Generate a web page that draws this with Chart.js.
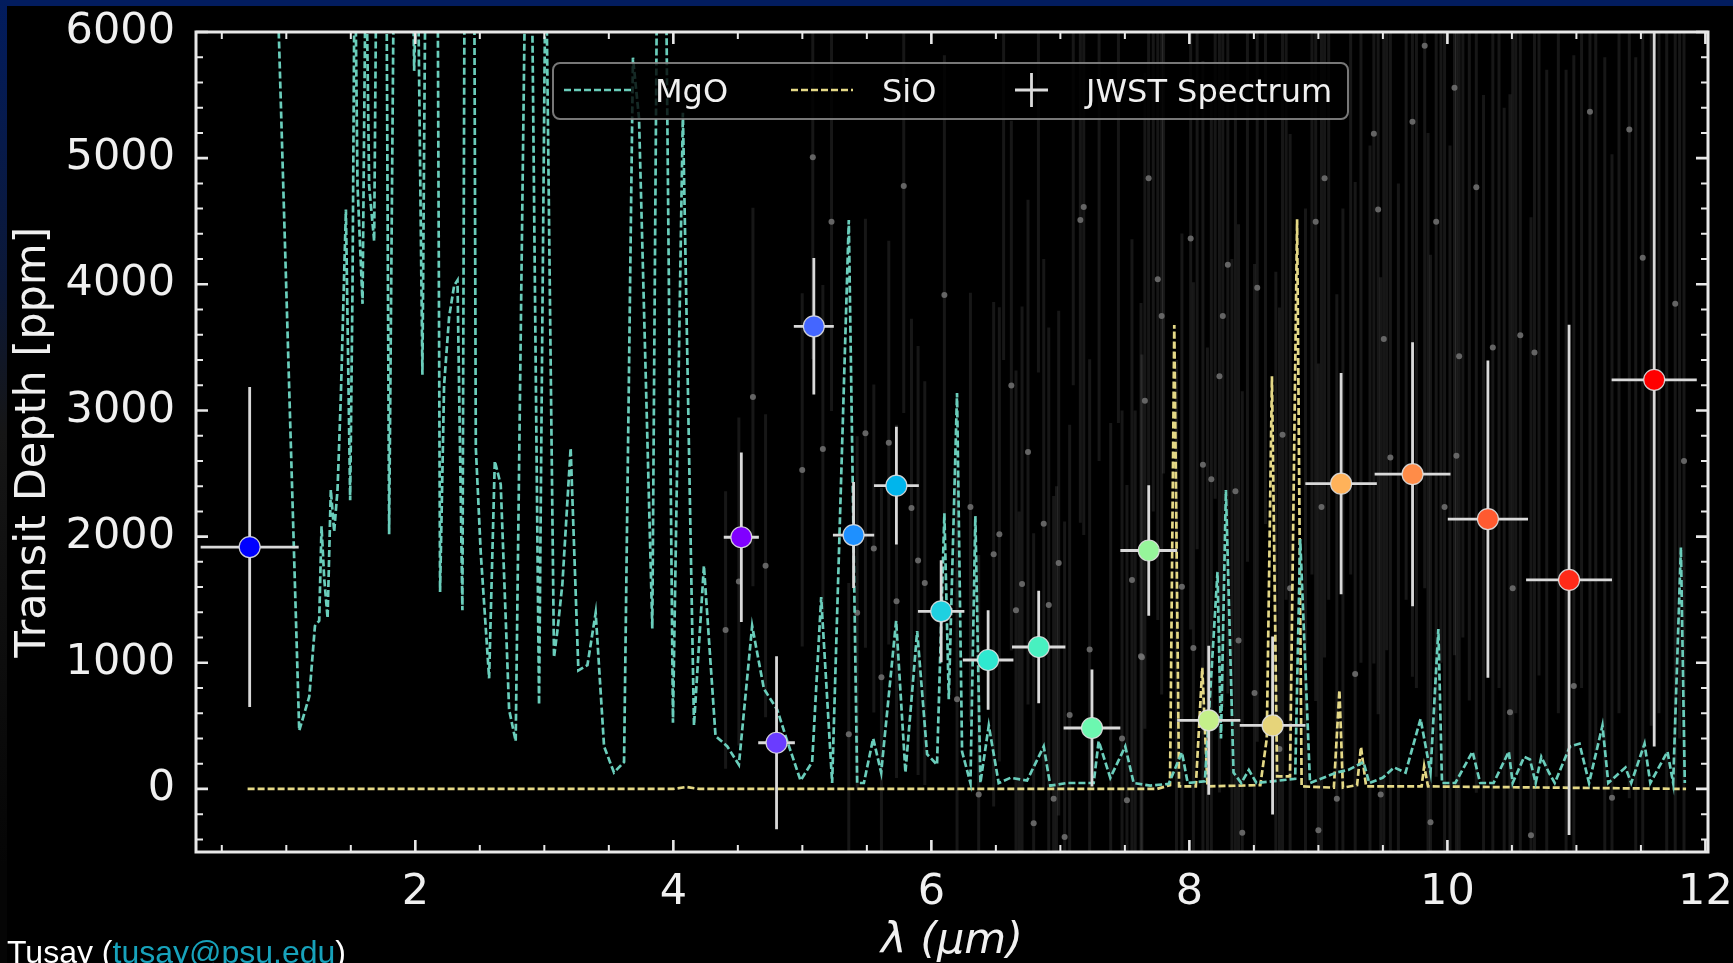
<!DOCTYPE html>
<html>
<head>
<meta charset="utf-8">
<script src="https://cdn.jsdelivr.net/npm/chart.js@4.4.1/dist/chart.umd.min.js"></script>
<style>
    html, body { margin: 0; padding: 0; background: #000; }
    #wrap { position: relative; width: 1733px; height: 963px; overflow: hidden; background: #000; }
    #topbar { position: absolute; left: 0; top: 0; width: 1733px; height: 6px; background: #021c5e; }
    #leftbar { position: absolute; left: 0; top: 0; width: 7px; height: 963px; background: linear-gradient(#021c5e, #0c1836 30%, #161616 45%, #050505 90%); }
    #chart { position: absolute; left: 0; top: 0; }
    #credit { position: absolute; left: 7px; top: 936px; font: 32px "Liberation Sans", Arial, sans-serif; line-height: 32px; color: #fff; white-space: nowrap; }
    #credit span { color: #17a2bb; }
</style>
</head>
<body>
<div id="wrap">
    <div id="topbar"></div>
    <div id="leftbar"></div>
    <canvas id="chart" width="1733" height="963"></canvas>
    <div id="credit">Tusay (<span>tusay@psu.edu</span>)</div>
</div>
<script>
    // JWST binned spectrum (wavelength in um, depth in ppm)
    var jwstX = [0.716, 4.527, 4.80, 5.089, 5.397, 5.729, 6.076, 6.44, 6.832, 7.245, 7.685, 8.15, 8.645, 9.176, 9.73, 10.314, 10.943, 11.603];
    var jwstY = [1917, 1995, 366, 3667, 2012, 2404, 1408, 1022, 1125, 483, 1890, 544, 503, 2420, 2495, 2139, 1657, 3243];
    var jwstXErr = [0.38, 0.136, 0.142, 0.155, 0.16, 0.174, 0.18, 0.196, 0.207, 0.22, 0.22, 0.245, 0.255, 0.277, 0.294, 0.311, 0.333, 0.33];
    var jwstYErr = [1268, 672, 685, 541, 420, 467, 404, 394, 446, 463, 518, 590, 705, 876, 1046, 1258, 2023, 2906];
    var jwstColors = ['#0000ff', '#8000ff', '#6a3cff', '#4466ff', '#1e90ff', '#00b5ec', '#1fd0e0', '#2ee8d0',
        '#48f0c0', '#6cf7b0', '#96f59a', '#c4f08a', '#e6d47a', '#ffb25a', '#ff8c48', '#ff5a30', '#ff2a18', '#ff0000'];

    // MgO model spectrum
    var mgoX = [0.93, 1.100, 1.178, 1.222, 1.255, 1.273, 1.294, 1.320, 1.345, 1.371, 1.397, 1.423, 1.462, 1.495, 1.513,
        1.531, 1.552, 1.591, 1.617, 1.642, 1.681, 1.700, 1.775, 1.797, 1.836, 1.978, 1.991, 2.017, 2.055, 2.081,
        2.172, 2.192, 2.223, 2.262, 2.301, 2.327, 2.365, 2.383, 2.456, 2.469, 2.507, 2.572, 2.616, 2.662, 2.727,
        2.778, 2.856, 2.900, 2.959, 3.011, 3.075, 3.101, 3.140, 3.204, 3.264, 3.334, 3.398, 3.463, 3.540, 3.618,
        3.687, 3.734, 3.837, 3.876, 3.940, 3.997, 4.074, 4.160, 4.237, 4.327, 4.418, 4.508, 4.611, 4.702, 4.805,
        4.883, 4.986, 5.076, 5.146, 5.231, 5.360, 5.425, 5.477, 5.549, 5.611, 5.727, 5.799, 5.890, 5.967, 6.044,
        6.101, 6.135, 6.199, 6.238, 6.303, 6.341, 6.380, 6.445, 6.522, 6.613, 6.742, 6.871, 6.922, 7.051, 7.258,
        7.297, 7.387, 7.503, 7.568, 7.697, 7.840, 7.942, 7.987, 8.120, 8.218, 8.245, 8.283, 8.342, 8.402, 8.461,
        8.520, 8.820, 8.859, 8.935, 9.142, 9.231, 9.350, 9.394, 9.498, 9.587, 9.676, 9.792, 9.869, 9.930, 9.958,
        10.061, 10.195, 10.254, 10.358, 10.476, 10.506, 10.595, 10.640, 10.684, 10.728, 10.787, 10.832, 10.950, 11.024, 11.098,
        11.202, 11.247, 11.380, 11.425, 11.528, 11.573, 11.706, 11.750, 11.810, 11.840];
    var mgoY = [6400, 462, 732, 1292, 1333, 2081, 1665, 1354, 2371, 2039, 2371, 3118, 4592, 2288, 3949,
        6800, 4779, 3845, 6800, 4779, 4343, 6800, 6800, 2018, 6800, 6800, 5692, 6800, 3284, 6800,
        6800, 1562, 3200, 3741, 3990, 4032, 1416, 6800, 6800, 2703, 1873, 877, 2599, 2413, 628,
        379, 6800, 6800, 669, 6800, 1043, 1250, 1624, 2703, 939, 981, 1396, 337, 130, 213,
        5796, 5318, 1271, 6800, 6800, 524, 5360, 503, 1769, 420, 337, 192, 1292, 794, 628,
        379, 67, 213, 1520, 47, 4509, 47, 47, 400, 130, 1333, 130, 1250, 275, 192,
        2184, 711, 3139, 296, 47, 2164, 47, 503, 47, 88, 67, 337, 26, 47, 47,
        379, 88, 337, 47, 26, 40, 290, 47, 60, 1720, 400, 2369, 130, 47, 150,
        47, 80, 1981, 47, 130, 150, 213, 47, 88, 170, 130, 555, 130, 1268, 47,
        47, 296, 47, 47, 296, 47, 254, 233, 47, 254, 130, 47, 337, 358, 47,
        503, 47, 170, 47, 358, 47, 296, 47, 1915, 47];

    // SiO model spectrum
    var sioX = [0.70, 4.00, 4.10, 4.20, 7.75, 7.85, 7.883, 7.92, 8.05, 8.100, 8.14, 8.55, 8.60, 8.640, 8.68,
        8.78, 8.835, 8.87, 9.12, 9.163, 9.19, 9.30, 9.330, 9.37, 9.80, 9.82, 9.85, 11.85];
    var sioY = [0, 0, 15, 0, 0, 30, 3677, 20, 20, 960, 20, 30, 400, 3272, 100,
        100, 4515, 20, 10, 784, 10, 30, 333, 20, 20, 180, 20, 0];

    // high resolution spectrum (faint background points)
    var faintX = [4.405, 4.508, 4.617, 4.715, 4.999, 5.081, 5.159, 5.226, 5.360, 5.425, 5.489, 5.554, 5.613, 5.670, 5.730,
        5.786, 5.846, 5.897, 5.949, 6.101, 6.199, 6.303, 6.367, 6.483, 6.527, 6.620, 6.656, 6.703, 6.749, 6.793,
        6.871, 6.910, 6.948, 6.987, 7.033, 7.072, 7.155, 7.181, 7.227, 7.478, 7.516, 7.555, 7.632, 7.625, 7.655,
        7.684, 7.755, 7.785, 7.942, 8.010, 8.031, 8.105, 8.170, 8.233, 8.259, 8.298, 8.357, 8.381, 8.410, 8.505,
        8.526, 8.698, 8.722, 8.781, 8.979, 9.000, 9.024, 9.048, 9.143, 9.285, 9.430, 9.463, 9.483, 9.507, 9.558,
        9.729, 9.824, 9.869, 9.913, 9.978, 10.055, 10.070, 10.091, 10.224, 10.352, 10.485, 10.506, 10.565, 10.648, 10.675,
        10.980, 11.105, 11.276, 11.410, 11.514, 11.766, 11.834,
        6.56, 6.68, 6.83, 6.97, 7.10, 7.30, 7.39, 7.45, 7.58, 7.72, 7.80, 7.90, 8.06, 8.14, 8.20,
        8.33, 8.45, 8.59, 8.67, 8.75, 8.90, 8.95, 9.08, 9.19, 9.25, 9.33, 9.40, 9.53, 9.62, 9.68,
        9.76, 9.85, 9.95, 10.02, 10.12, 10.17, 10.28, 10.40, 10.44, 10.53, 10.71, 10.77, 10.86, 10.92, 11.04,
        11.15, 11.22, 11.33, 11.46, 11.58, 11.64, 11.70, 11.80];
    var faintY = [1259, 1645, 3106, 1769, 2529, 5007, 2695, 4496, 433, 1396, 2819, 1906, 885, 2745, 1487,
        4779, 2226, 1811, 1632, 3915, 711, 2234, -45, 1860, 2018, 3197, 1416, 1624, 2670, -273,
        2101, 1458, -78, 1790, -381, 586, 4509, 4613, 1105, 400, -90, 1657, 1043, 1051, 3077,
        4841, 4040, 3749, 1603, 4364, 1117, 2570, 2454, 3272, 3749, 4156, 2359, 1176, -348, 761,
        3973, 316, 2807, 1591, 4496, -327, 2234, 4841, -78, 910, 5194, 4592, -45, 3567, 2628,
        5289, 5891, -265, 4496, 2234, 5559, 2641, 3430, 4770, 3500, 607, 1591, 3596, -368, 3459,
        815, 5368, -70, 5227, 4210, 3845, 2599,
        6600, -800, 6900, -1000, 7100, 6700, -900, 7300, -1200, 6800, 7400, -1100, 6900, -1300, 7600,
        -900, 7200, 7800, -1400, 6700, -1200, 7700, 7100, -1500, 8000, 6900, -1100, 7600, -1600, 8200,
        7000, -1400, 7900, -1700, 8300, 7200, -1500, 8100, -1800, 7400, 8400, -1600, 7800, -1900, 8600,
        7300, -1700, 8500, -2000, 7900, 8800, -1800, 8200];
    var faintErr = [1100, 1300, 1500, 1200, 1400, 1600, 1300, 1500, 1200, 1400, 1700, 1300, 1500, 1600, 1400,
        1800, 1500, 1700, 1600, 1900, 1800, 1700, 1900, 2000, 1800, 2100, 1900, 2200, 2000, 2300,
        2100, 2200, 2400, 2000, 2500, 2300, 2400, 2600, 2300, 2600, 2500, 2700, 2400, 2800, 2600,
        2900, 2700, 3000, 2800, 3100, 2900, 3200, 3000, 3300, 3100, 3400, 3200, 3300, 3500, 3400,
        3600, 3500, 3700, 3600, 3800, 3700, 3900, 3800, 4000, 3900, 4200, 4000, 4100, 4300, 4200,
        4400, 4300, 4500, 4400, 4600, 4500, 4700, 4600, 4800, 4700, 4900, 4800, 5000, 4900, 5100,
        5000, 5200, 5100, 5300, 5200, 5400, 5300,
        3200, 3000, 3600, 3400, 3900, 4100, 3800, 4400, 4200, 4600, 4900, 4500, 5000, 4800, 5300,
        5100, 5400, 5700, 5500, 5200, 5800, 6000, 5600, 6100, 6300, 5900, 6200, 6500, 6400, 6700,
        6200, 6600, 6900, 6800, 7100, 6500, 7000, 7300, 7200, 6800, 7500, 7300, 7200, 7600, 7800,
        7000, 7500, 7900, 7800, 7400, 8200, 7900, 7800];

    var xTickLabels = [2, 4, 6, 8, 10, 12];
    var yTickLabels = [0, 1000, 2000, 3000, 4000, 5000, 6000];

    function toPoints(xs, ys) {
        return xs.map(function (v, i) { return { x: v, y: ys[i] }; });
    }

    // error bars, inward ticks on all four spines and the in-axes legend
    var decor = {
        id: 'decor',
        beforeDatasetDraw: function (chart, args) {
            var ds = chart.data.datasets[args.index];
            if (!ds.errY) return;
            var ctx = chart.ctx, a = chart.chartArea, x = chart.scales.x, y = chart.scales.y;
            ctx.save();
            ctx.beginPath();
            ctx.rect(a.left, a.top, a.right - a.left, a.bottom - a.top);
            ctx.clip();
            ctx.strokeStyle = ds.errColor;
            ctx.lineWidth = ds.errWidth;
            ds.data.forEach(function (p, i) {
                var px = x.getPixelForValue(p.x), py = y.getPixelForValue(p.y);
                ctx.beginPath();
                ctx.moveTo(px, y.getPixelForValue(p.y + ds.errY[i]));
                ctx.lineTo(px, y.getPixelForValue(p.y - ds.errY[i]));
                if (ds.errX) {
                    ctx.moveTo(x.getPixelForValue(p.x - ds.errX[i]), py);
                    ctx.lineTo(x.getPixelForValue(p.x + ds.errX[i]), py);
                }
                ctx.stroke();
            });
            ctx.restore();
        },
        afterDatasetsDraw: function (chart) {
            var ctx = chart.ctx, a = chart.chartArea, x = chart.scales.x, y = chart.scales.y;
            ctx.save();
            ctx.strokeStyle = '#e8e8e8';

            function xTick(v, len, w) {
                var px = x.getPixelForValue(v);
                ctx.lineWidth = w;
                ctx.beginPath();
                ctx.moveTo(px, a.bottom); ctx.lineTo(px, a.bottom - len);
                ctx.moveTo(px, a.top); ctx.lineTo(px, a.top + len);
                ctx.stroke();
            }
            function yTick(v, len, w) {
                var py = y.getPixelForValue(v);
                ctx.lineWidth = w;
                ctx.beginPath();
                ctx.moveTo(a.left, py); ctx.lineTo(a.left + len, py);
                ctx.moveTo(a.right, py); ctx.lineTo(a.right - len, py);
                ctx.stroke();
            }
            for (var xv = 0.5; xv < x.max; xv += 0.5) {
                if (xv > x.min && xTickLabels.indexOf(xv) < 0) xTick(xv, 7, 2);
            }
            xTickLabels.forEach(function (v) { xTick(v, 12, 2.6); });
            for (var yv = -400; yv < y.max; yv += 200) {
                if (yTickLabels.indexOf(yv) < 0) yTick(yv, 7, 2);
            }
            yTickLabels.forEach(function (v) { yTick(v, 12, 2.6); });

            ctx.lineWidth = 3;
            ctx.strokeRect(a.left, a.top, a.right - a.left, a.bottom - a.top);

            // legend
            var mgo = chart.data.datasets[1], sio = chart.data.datasets[2];
            ctx.beginPath();
            ctx.roundRect(553, 63, 795, 56, 7);
            ctx.fillStyle = 'rgba(0,0,0,0.8)';
            ctx.fill();
            ctx.strokeStyle = 'rgba(140,140,140,0.85)';
            ctx.lineWidth = 2;
            ctx.stroke();

            ctx.lineWidth = 2.3;
            ctx.setLineDash(mgo.borderDash);
            ctx.strokeStyle = mgo.borderColor;
            ctx.beginPath(); ctx.moveTo(564, 90); ctx.lineTo(632, 90); ctx.stroke();
            ctx.strokeStyle = sio.borderColor;
            ctx.beginPath(); ctx.moveTo(791, 90); ctx.lineTo(853, 90); ctx.stroke();
            ctx.setLineDash([]);

            ctx.strokeStyle = '#dcdcdc';
            ctx.lineWidth = 2.8;
            ctx.beginPath();
            ctx.moveTo(1015, 90); ctx.lineTo(1048, 90);
            ctx.moveTo(1031.5, 73); ctx.lineTo(1031.5, 107);
            ctx.stroke();

            ctx.fillStyle = '#f0f0f0';
            ctx.font = '32px "DejaVu Sans"';
            ctx.textBaseline = 'alphabetic';
            ctx.fillText(mgo.label, 655, 102);
            ctx.fillText(sio.label, 882, 102);
            ctx.fillText(chart.data.datasets[0].label, 1086, 102);
            ctx.restore();
        }
    };

    Chart.defaults.font.family = '"DejaVu Sans", sans-serif';
    Chart.defaults.color = '#f0f0f0';

    var ctx = document.getElementById('chart').getContext('2d');
    var chart = new Chart(ctx, {
        type: 'scatter',
        data: {
            datasets: [{
                label: 'JWST Spectrum',
                data: toPoints(jwstX, jwstY),
                pointRadius: 10.5,
                pointBackgroundColor: jwstColors,
                pointBorderColor: 'rgba(225,225,225,0.9)',
                pointBorderWidth: 1.2,
                errX: jwstXErr,
                errY: jwstYErr,
                errColor: '#d9d9d9',
                errWidth: 2.8,
                order: 0
            }, {
                label: 'MgO',
                type: 'line',
                data: toPoints(mgoX, mgoY),
                borderColor: '#6acdbb',
                borderWidth: 2.7,
                borderDash: [7, 3],
                pointRadius: 0,
                tension: 0,
                fill: false,
                order: 1
            }, {
                label: 'SiO',
                type: 'line',
                data: toPoints(sioX, sioY),
                borderColor: '#e4d886',
                borderWidth: 2.7,
                borderDash: [7, 3],
                pointRadius: 0,
                tension: 0,
                fill: false,
                order: 2
            }, {
                label: 'high-res',
                data: toPoints(faintX, faintY),
                pointRadius: 3,
                pointBackgroundColor: 'rgba(115,115,115,0.85)',
                pointBorderWidth: 0,
                errY: faintErr,
                errColor: 'rgba(255,255,255,0.09)',
                errWidth: 3,
                order: 3
            }]
        },
        options: {
            responsive: false,
            animation: false,
            events: [],
            layout: { padding: { top: 32, right: 25, bottom: 0, left: 0 } },
            plugins: { legend: { display: false }, tooltip: { enabled: false } },
            scales: {
                x: {
                    type: 'linear',
                    min: 0.3,
                    max: 12.02,
                    grid: { display: false },
                    border: { display: false },
                    afterBuildTicks: function (s) { s.ticks = xTickLabels.map(function (v) { return { value: v }; }); },
                    afterFit: function (s) { s.height = 111; s.paddingLeft = 0; s.paddingRight = 0; },
                    ticks: { font: { size: 43 }, padding: 7, maxRotation: 0, autoSkip: false, color: '#f0f0f0',
                        callback: function (v) { return String(v); } },
                    title: { display: true, text: 'λ (μm)', color: '#f0f0f0', font: { size: 43, style: 'italic', lineHeight: 1.0 }, padding: { top: 0, bottom: 0 } }
                },
                y: {
                    min: -500,
                    max: 6000,
                    grid: { display: false },
                    border: { display: false },
                    afterBuildTicks: function (s) { s.ticks = yTickLabels.map(function (v) { return { value: v }; }); },
                    afterFit: function (s) { s.width = 196; s.paddingTop = 0; s.paddingBottom = 0; },
                    ticks: { font: { size: 43 }, padding: 13, color: '#f0f0f0',
                        callback: function (v) { return String(v); } },
                    title: { display: true, text: 'Transit Depth [ppm]', color: '#f0f0f0', font: { size: 43, lineHeight: 1.2 }, padding: { top: 8, bottom: 0 } }
                }
            }
        },
        plugins: [decor]
    });
</script>
</body>
</html>
